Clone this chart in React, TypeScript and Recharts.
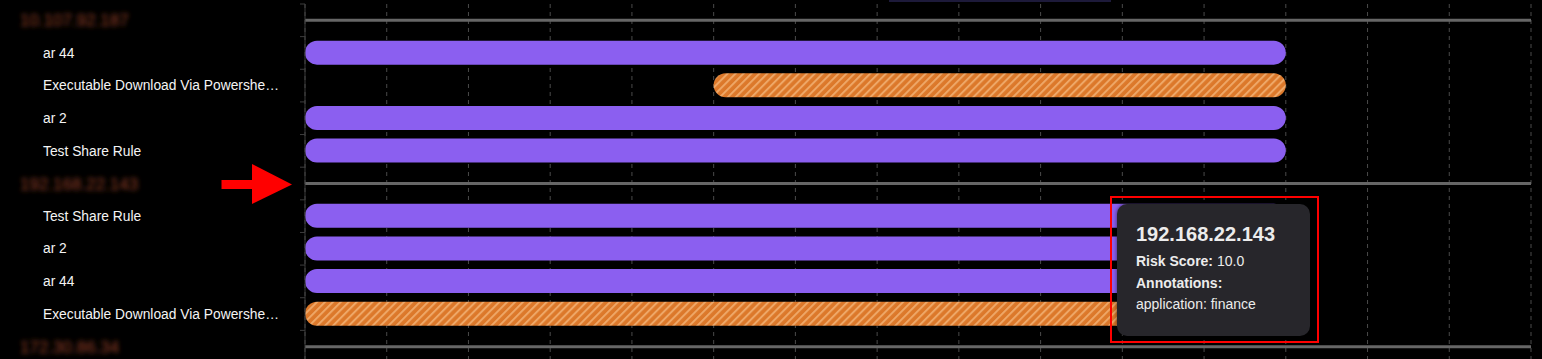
import React from "react";
import {
  BarChart,
  Bar,
  Cell,
  XAxis,
  YAxis,
  CartesianGrid,
  ReferenceLine,
} from "recharts";

// rows top to bottom: host header rows followed by their rule hits
const ROW_LABELS = [
  "10.107.92.187",
  "ar 44",
  "Executable Download Via Powershe…",
  "ar 2",
  "Test Share Rule",
  "192.168.22.143",
  "Test Share Rule",
  "ar 2",
  "ar 44",
  "Executable Download Via Powershe…",
  "172.30.86.34",
];
const ROW_IS_HOST = [true, false, false, false, false, true, false, false, false, false, true];
const SPAN_START = [null, 0, 5, 0, 0, null, 0, 0, 0, 0, null];
const SPAN_END = [null, 12, 12, 12, 12, null, 12, 12, 12, 12, null];
const SPAN_KIND = [null, "rule", "sigma", "rule", "rule", null, "rule", "rule", "rule", "sigma", null];

const TIME_TICKS = [0, 1, 2, 3, 4, 5, 6, 7, 8, 9, 10, 11, 12, 13, 14, 15];
const ROW_TICKS = [0, 0.5, 1, 1.5, 2, 2.5, 3, 3.5, 4, 4.5, 5, 5.5, 6, 6.5, 7, 7.5, 8, 8.5, 9, 9.5, 10, 10.5, 11];
const HOST_ROWS = [0.5, 5.5, 10.5];

const TOOLTIP_HOST = "192.168.22.143";
const TOOLTIP_RISK = "10.0";
const TOOLTIP_ANNOTATIONS = ["application: finance"];

const FONT = '"Liberation Sans", Arial, Helvetica, sans-serif';

const data = ROW_LABELS.map((label, i) => ({
  pos: i + 0.5,
  label,
  span: SPAN_START[i] == null ? null : [SPAN_START[i], SPAN_END[i]],
  kind: SPAN_KIND[i],
}));

function RowTick(props: any) {
  const { x, y, payload } = props;
  const v = payload.value as number;
  if (Number.isInteger(v)) {
    return <line x1={x} x2={x + 5} y1={y} y2={y} stroke="#3d3d3d" strokeWidth={1} />;
  }
  const i = Math.floor(v);
  if (ROW_IS_HOST[i]) {
    // host names are redacted (blurred) in the source
    return (
      <text
        x={x - 280}
        y={y}
        dy={6}
        fill="#9a4128"
        fontSize={17}
        fontFamily={FONT}
        filter="url(#redact)"
      >
        {ROW_LABELS[i]}
      </text>
    );
  }
  return (
    <text x={x - 257} y={y} dy={4.7} fill="#f4f4f4" fontSize={13.8} fontFamily={FONT}>
      {ROW_LABELS[i]}
    </text>
  );
}

// time ticks sit below the visible area; keep them only for the grid
function NoTick() {
  return <g />;
}

export default function App() {
  return (
    <div
      style={{
        position: "absolute",
        left: 0,
        top: 0,
        width: 1542,
        height: 359,
        overflow: "hidden",
        background: "#000",
        fontFamily: FONT,
      }}
    >
      <div
        style={{
          position: "absolute",
          left: 889,
          top: 0,
          width: 222,
          height: 2,
          background: "#1d1a3a",
        }}
      />
      <BarChart
        width={1542}
        height={393}
        data={data}
        layout="vertical"
        margin={{ top: 4, right: 11, bottom: 0, left: 0 }}
      >
        <defs>
          <filter id="redact" x="-10%" y="-60%" width="120%" height="220%">
            <feGaussianBlur stdDeviation="2.4" />
          </filter>
          <pattern
            id="hatch"
            width="5.6"
            height="5.6"
            patternUnits="userSpaceOnUse"
            patternTransform="rotate(45)"
          >
            <rect width="5.6" height="5.6" fill="#dc782a" />
            <line x1="1" y1="0" x2="1" y2="5.6" stroke="#eea767" strokeWidth="2" />
          </pattern>
        </defs>
        <CartesianGrid
          vertical
          horizontal={false}
          stroke="#4a4a4a"
          strokeDasharray="4 4"
        />
        <XAxis
          type="number"
          domain={[0, 15]}
          ticks={TIME_TICKS}
          interval={0}
          axisLine={false}
          tickLine={false}
          height={30}
          tick={<NoTick />}
        />
        <YAxis
          type="number"
          dataKey="pos"
          domain={[0, 11]}
          ticks={ROW_TICKS}
          interval={0}
          width={305}
          tickSize={5}
          tickMargin={0}
          tickLine={false}
          axisLine={{ stroke: "#3d3d3d" }}
          tick={<RowTick />}
        />
        {HOST_ROWS.map((r) => (
          <ReferenceLine key={r} y={r} stroke="#666" strokeWidth={3} />
        ))}
        <Bar dataKey="span" barSize={24} radius={12} isAnimationActive={false}>
          {data.map((d, i) => (
            <Cell key={i} fill={d.kind === "sigma" ? "url(#hatch)" : "#8b5ff0"} />
          ))}
        </Bar>
      </BarChart>

      {/* hover card for the 192.168.22.143 host */}
      <div
        style={{
          position: "absolute",
          left: 1117,
          top: 204,
          width: 193,
          height: 132,
          boxSizing: "border-box",
          padding: "18px 0 0 19px",
          background: "#27262b",
          borderRadius: 10,
          color: "#ececec",
          boxShadow: "0 0 4px rgba(0,0,0,0.6)",
        }}
      >
        <div style={{ fontSize: 20, fontWeight: 700, lineHeight: "24px", marginBottom: 5 }}>
          {TOOLTIP_HOST}
        </div>
        <div style={{ fontSize: 14, lineHeight: "21.5px" }}>
          <b>Risk Score:</b> {TOOLTIP_RISK}
        </div>
        <div style={{ fontSize: 14, lineHeight: "21.5px", fontWeight: 700 }}>Annotations:</div>
        {TOOLTIP_ANNOTATIONS.map((a) => (
          <div key={a} style={{ fontSize: 14, lineHeight: "21.5px" }}>
            {a}
          </div>
        ))}
      </div>

      {/* red highlight box and arrow drawn over the screenshot */}
      <div
        style={{
          position: "absolute",
          left: 1110,
          top: 196,
          width: 209,
          height: 147,
          boxSizing: "border-box",
          border: "2px solid #ff0000",
        }}
      />
      <svg
        width={80}
        height={50}
        style={{ position: "absolute", left: 218, top: 160 }}
      >
        <rect x={3.5} y={20} width={31} height={9} fill="#ff0000" />
        <polygon points="34,4 74,24.5 34,44" fill="#ff0000" />
      </svg>
    </div>
  );
}
